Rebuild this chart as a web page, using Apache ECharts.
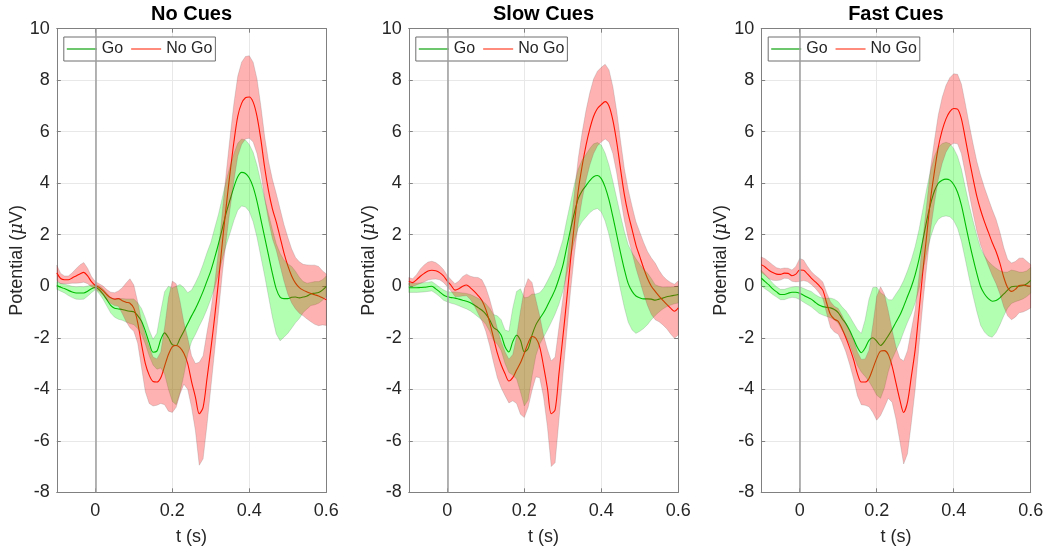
<!DOCTYPE html>
<html lang="en">
<head>
<meta charset="UTF-8">
<title>Go / No Go potentials</title>
<script src="https://cdn.jsdelivr.net/npm/echarts@6/dist/echarts.min.js"></script>
<style>
    html, body { margin: 0; padding: 0; background: #fff; }
    #main { width: 1047px; height: 550px; }
</style>
</head>
<body>
<div id="main"></div>
<script>
    // time (s)
    var times = [-0.1,-0.09,-0.08,-0.07,-0.06,-0.05,-0.04,-0.03,-0.02,-0.01,0,
        0.01,0.02,0.03,0.04,0.05,0.06,0.07,0.08,0.09,0.1,
        0.11,0.12,0.13,0.14,0.15,0.16,0.17,0.18,0.19,0.2,
        0.21,0.22,0.23,0.24,0.25,0.26,0.27,0.28,0.29,0.3,
        0.31,0.32,0.33,0.34,0.35,0.36,0.37,0.38,0.39,0.4,
        0.41,0.42,0.43,0.44,0.45,0.46,0.47,0.48,0.49,0.5,
        0.51,0.52,0.53,0.54,0.55,0.56,0.57,0.58,0.59,0.6];
    var panelTitles = ['No Cues', 'Slow Cues', 'Fast Cues'];
    var onsetTime = 0;

    // No Cues
    var goMean1 = [0.03,-0.04,-0.09,-0.16,-0.22,-0.26,-0.26,-0.26,-0.19,-0.1,-0.04,
        -0.13,-0.3,-0.52,-0.74,-0.85,-0.88,-0.9,-0.94,-0.97,-0.99,
        -1.14,-1.36,-1.74,-2.2,-2.56,-2.52,-2.07,-1.81,-2.0,-2.27,
        -2.3,-2.03,-1.75,-1.45,-1.15,-0.87,-0.55,-0.2,0.2,0.6,
        1.1,1.65,2.25,2.85,3.36,3.85,4.25,4.42,4.38,4.2,
        3.85,3.3,2.6,1.9,1.2,0.5,-0.1,-0.42,-0.48,-0.48,
        -0.43,-0.42,-0.45,-0.42,-0.38,-0.3,-0.27,-0.24,-0.15,0.0];
    var goErr1 = [0.15,0.15,0.17,0.2,0.22,0.24,0.25,0.24,0.2,0.15,0.1,
        0.15,0.2,0.25,0.3,0.35,0.4,0.42,0.45,0.48,0.5,
        0.5,0.5,0.5,0.5,0.5,0.7,1.1,1.6,2.0,2.2,
        2.3,2.1,1.7,1.2,1.0,1.0,1.0,1.05,1.1,1.1,
        1.15,1.15,1.2,1.25,1.3,1.3,1.3,1.3,1.3,1.3,
        1.35,1.4,1.45,1.5,1.6,1.7,1.75,1.7,1.5,1.35,
        1.2,1.0,0.8,0.6,0.5,0.45,0.45,0.42,0.4,0.4];
    var noGoMean1 = [0.52,0.3,0.25,0.25,0.32,0.4,0.48,0.54,0.4,0.18,0.03,
        -0.05,-0.17,-0.33,-0.45,-0.5,-0.48,-0.56,-0.62,-0.66,-0.85,
        -1.4,-2.25,-3.0,-3.45,-3.7,-3.72,-3.55,-3.1,-2.65,-2.35,
        -2.3,-2.38,-2.6,-3.0,-3.7,-4.3,-4.95,-4.7,-3.6,-2.45,
        -1.2,0.2,1.7,3.1,4.4,5.6,6.6,7.1,7.32,7.35,
        7.15,6.6,5.7,4.6,3.7,3.0,2.5,1.9,1.3,0.8,
        0.4,0.12,-0.05,-0.15,-0.22,-0.28,-0.33,-0.38,-0.45,-0.52];
    var noGoErr1 = [0.3,0.2,0.15,0.15,0.2,0.28,0.35,0.38,0.3,0.2,0.15,
        0.15,0.18,0.2,0.22,0.25,0.3,0.5,0.75,0.95,0.9,
        0.8,0.9,1.1,1.1,0.95,0.9,1.0,1.5,2.2,2.55,
        2.4,1.8,1.2,1.0,1.0,1.3,2.0,2.0,1.8,1.5,
        1.3,1.2,1.2,1.3,1.4,1.5,1.55,1.6,1.6,1.6,
        1.55,1.45,1.3,1.2,1.15,1.15,1.1,1.1,1.1,1.1,
        1.05,1.0,1.0,1.0,1.05,1.1,1.15,1.15,1.05,1.0];

    // Slow Cues
    var goMean2 = [-0.06,-0.06,-0.06,-0.05,-0.04,-0.02,0.0,-0.1,-0.22,-0.34,-0.41,
        -0.44,-0.46,-0.5,-0.54,-0.58,-0.64,-0.73,-0.83,-0.93,-1.08,
        -1.3,-1.6,-1.7,-1.9,-2.35,-2.55,-2.15,-1.9,-2.1,-2.55,
        -2.42,-1.9,-1.5,-1.25,-1.03,-0.75,-0.45,-0.13,0.3,0.8,
        1.5,2.2,2.85,3.4,3.7,3.9,4.1,4.25,4.3,4.18,
        3.85,3.35,2.7,2.0,1.3,0.65,0.1,-0.2,-0.38,-0.45,
        -0.49,-0.49,-0.5,-0.54,-0.5,-0.46,-0.41,-0.38,-0.35,-0.32];
    var goErr2 = [0.18,0.18,0.18,0.18,0.18,0.18,0.18,0.18,0.18,0.2,0.2,
        0.22,0.24,0.26,0.28,0.3,0.32,0.34,0.36,0.38,0.4,
        0.45,0.5,0.55,0.6,0.65,0.8,1.3,1.7,2.0,2.1,
        2.0,1.6,1.2,1.0,0.95,0.95,0.95,0.95,1.0,1.0,
        1.05,1.05,1.1,1.15,1.2,1.22,1.25,1.28,1.28,1.3,
        1.32,1.35,1.38,1.42,1.45,1.48,1.5,1.5,1.45,1.3,
        1.15,1.0,0.8,0.6,0.5,0.42,0.38,0.35,0.33,0.33];
    var noGoMean2 = [0.19,0.14,0.25,0.39,0.5,0.59,0.62,0.6,0.53,0.4,0.2,
        0.03,-0.15,-0.1,0.0,0.05,-0.06,-0.2,-0.36,-0.55,-0.9,
        -1.4,-2.0,-2.6,-3.05,-3.4,-3.68,-3.55,-3.25,-2.97,-2.6,
        -2.2,-1.95,-2.02,-2.35,-3.1,-3.95,-4.95,-4.8,-3.4,-2.0,
        -0.55,1.0,2.4,3.7,4.65,5.45,6.1,6.6,6.9,7.05,
        7.17,7.0,6.45,5.6,4.55,3.55,2.8,2.2,1.6,1.15,
        0.7,0.3,0.0,-0.2,-0.38,-0.55,-0.7,-0.85,-0.97,-0.84];
    var noGoErr2 = [0.15,0.15,0.2,0.28,0.33,0.35,0.35,0.32,0.28,0.25,0.22,
        0.22,0.25,0.3,0.38,0.42,0.45,0.55,0.7,0.8,0.85,
        0.9,0.95,0.95,0.9,0.85,0.85,0.9,1.3,2.0,2.5,
        2.5,2.1,1.5,1.2,1.2,1.5,2.05,2.05,1.8,1.5,
        1.3,1.2,1.2,1.25,1.3,1.35,1.4,1.45,1.45,1.45,
        1.45,1.4,1.3,1.2,1.1,1.0,0.95,0.9,0.9,0.95,
        1.0,1.05,1.1,1.1,1.0,0.95,0.95,1.0,1.05,1.05];

    // Fast Cues
    var goMean3 = [0.32,0.18,0.05,-0.1,-0.22,-0.32,-0.32,-0.27,-0.23,-0.23,-0.27,
        -0.35,-0.43,-0.5,-0.62,-0.73,-0.79,-0.82,-0.84,-0.9,-1.02,
        -1.25,-1.45,-1.72,-2.05,-2.38,-2.58,-2.4,-2.1,-2.0,-2.13,
        -2.3,-2.15,-1.92,-1.68,-1.4,-1.13,-0.78,-0.4,-0.02,0.45,
        1.05,1.8,2.55,3.2,3.7,4.0,4.12,4.16,4.12,3.95,
        3.65,3.15,2.45,1.75,1.1,0.5,-0.02,-0.3,-0.48,-0.58,
        -0.55,-0.45,-0.3,-0.15,-0.02,0.0,0.0,0.03,0.1,0.23];
    var goErr3 = [0.3,0.28,0.25,0.22,0.2,0.2,0.2,0.2,0.2,0.22,0.25,
        0.27,0.28,0.3,0.3,0.32,0.33,0.35,0.38,0.4,0.42,
        0.45,0.5,0.55,0.62,0.7,0.75,1.1,1.6,1.95,2.1,
        2.05,1.8,1.4,1.15,1.1,1.05,1.0,1.0,1.05,1.1,
        1.15,1.2,1.25,1.3,1.35,1.4,1.42,1.43,1.42,1.4,
        1.4,1.4,1.4,1.42,1.45,1.48,1.5,1.48,1.45,1.4,
        1.25,1.05,0.85,0.7,0.65,0.6,0.55,0.52,0.5,0.5];
    var noGoMean3 = [0.84,0.75,0.62,0.53,0.47,0.46,0.51,0.5,0.41,0.47,0.63,
        0.62,0.48,0.32,0.18,0.03,-0.15,-0.65,-1.1,-1.28,-1.36,
        -1.65,-2.0,-2.4,-2.85,-3.4,-3.72,-3.72,-3.58,-3.2,-2.8,
        -2.52,-2.5,-2.65,-3.1,-3.75,-4.4,-4.9,-4.5,-3.5,-2.45,
        -0.95,0.6,2.0,3.4,4.45,5.4,6.05,6.5,6.78,6.9,
        6.88,6.5,5.75,4.95,4.2,3.5,2.95,2.5,2.1,1.7,
        1.35,0.9,0.35,-0.05,-0.2,-0.12,0.03,0.05,0.02,0.0];
    var noGoErr3 = [0.3,0.32,0.33,0.3,0.25,0.22,0.2,0.2,0.22,0.3,0.45,
        0.4,0.3,0.25,0.25,0.28,0.32,0.4,0.5,0.5,0.5,
        0.52,0.55,0.65,0.75,0.85,0.88,0.9,1.1,1.7,2.4,
        2.5,2.2,1.7,1.4,1.4,1.6,2.0,2.0,1.8,1.55,
        1.35,1.25,1.2,1.2,1.22,1.25,1.28,1.3,1.32,1.35,
        1.35,1.35,1.35,1.35,1.35,1.35,1.35,1.32,1.3,1.28,
        1.25,1.2,1.15,1.1,1.1,1.08,1.06,1.05,0.95,0.84];

    var panels = [
        { title: panelTitles[0], goMean: goMean1, goErr: goErr1, noGoMean: noGoMean1, noGoErr: noGoErr1 },
        { title: panelTitles[1], goMean: goMean2, goErr: goErr2, noGoMean: noGoMean2, noGoErr: noGoErr2 },
        { title: panelTitles[2], goMean: goMean3, goErr: goErr3, noGoMean: noGoMean3, noGoErr: noGoErr3 }
    ];

    var font = '"Liberation Sans", Arial, Helvetica, sans-serif';
    var textCol = '#262626';
    var axisCol = '#808080';
    var gridCol = '#e8e8e8';
    var goLine = '#00a000', noGoLine = '#ff1a00';
    var goFill = 'rgba(0,255,0,0.3)', noGoFill = 'rgba(255,0,0,0.3)';
    var edgeCol = 'rgba(70,70,70,0.22)';

    var gridLeft = [56.8, 408.8, 761.2];
    var gridTop = 28.7, gridW = 269.5, gridH = 463.6;

    function pairs(vals) {
        return times.map(function (t, i) { return [t, vals[i]]; });
    }

    // shaded mean +/- error band, drawn as one polygon through the axis scales
    function bandSeries(ax, m, e, fill, key) {
        var rows = times.map(function (t, i) { return [t, m[i] - e[i], m[i] + e[i]]; });
        return Object.assign({
            name: key, type: 'custom', data: rows, z: 3, silent: true,
            encode: { x: 0, y: [1, 2] },
            renderItem: function (params, api) {
                if (params.dataIndex !== 0) return null;
                var upper = rows.map(function (r) { return api.coord([r[0], r[2]]); });
                var lower = rows.map(function (r) { return api.coord([r[0], r[1]]); }).reverse();
                return {
                    type: 'polygon',
                    shape: { points: upper.concat(lower) },
                    style: { fill: fill, stroke: edgeCol, lineWidth: 0.8 }
                };
            }
        }, ax);
    }

    var grids = [], xAxes = [], yAxes = [], legends = [], graphics = [], series = [];

    panels.forEach(function (pn, p) {
        grids.push({ left: gridLeft[p], top: gridTop, width: gridW, height: gridH, outerBoundsMode: 'none', containLabel: false });

        // bottom x axis + mirrored top
        xAxes.push({
            type: 'value', gridIndex: p, min: -0.1, max: 0.6, splitNumber: 4, position: 'bottom',
            name: 't (s)', nameLocation: 'middle', nameGap: 36,
            nameTextStyle: { fontSize: 18, color: textCol, fontFamily: font },
            axisLine: { show: true, onZero: false, lineStyle: { color: axisCol, width: 1 } },
            axisTick: { show: true, inside: true, length: 4, lineStyle: { color: axisCol } },
            axisLabel: { fontSize: 18, color: textCol, fontFamily: font, margin: 10, showMinLabel: false },
            splitLine: { show: true, lineStyle: { color: gridCol, width: 1 } }
        });
        xAxes.push({
            type: 'value', gridIndex: p, min: -0.1, max: 0.6, splitNumber: 4, position: 'top',
            axisLine: { show: true, onZero: false, lineStyle: { color: axisCol, width: 1 } },
            axisTick: { show: true, inside: true, length: 4, lineStyle: { color: axisCol } },
            axisLabel: { show: false }, splitLine: { show: false }
        });
        // left y axis + mirrored right
        yAxes.push({
            type: 'value', gridIndex: p, min: -8, max: 10, interval: 2, position: 'left',
            name: 'Potential ({mu|μ}V)', nameLocation: 'middle', nameGap: 30, nameRotate: 90,
            nameTextStyle: {
                fontSize: 18, color: textCol, fontFamily: font,
                rich: { mu: { fontSize: 18, color: textCol, fontStyle: 'italic', fontFamily: '"DejaVu Serif", serif' } }
            },
            axisLine: { show: true, onZero: false, lineStyle: { color: axisCol, width: 1 } },
            axisTick: { show: true, inside: true, length: 4, lineStyle: { color: axisCol } },
            axisLabel: { fontSize: 18, color: textCol, fontFamily: font, margin: 7 },
            splitLine: { show: true, lineStyle: { color: gridCol, width: 1 } }
        });
        yAxes.push({
            type: 'value', gridIndex: p, min: -8, max: 10, interval: 2, position: 'right',
            axisLine: { show: true, onZero: false, lineStyle: { color: axisCol, width: 1 } },
            axisTick: { show: true, inside: true, length: 4, lineStyle: { color: axisCol } },
            axisLabel: { show: false }, splitLine: { show: false }
        });

        legends.push({
            left: gridLeft[p] + 7, top: 37, orient: 'horizontal',
            padding: [4, 3, 4, 3], itemGap: 8, itemWidth: 30, itemHeight: 1.5,
            icon: 'rect',
            backgroundColor: '#fff', borderColor: '#6e6e6e', borderWidth: 1,
            selectedMode: false,
            textStyle: { fontSize: 16, color: textCol, fontFamily: font },
            data: [
                { name: 'Go', itemStyle: { color: '#3cb53c' } },
                { name: 'No Go', itemStyle: { color: '#ff6650' } }
            ]
        });

        graphics.push({
            type: 'text', x: gridLeft[p] + gridW / 2, y: 14, silent: true,
            style: { text: pn.title, textAlign: 'center', textVerticalAlign: 'middle',
                font: 'bold 20px ' + font, fill: '#000' }
        });

        var ax = { xAxisIndex: 2 * p, yAxisIndex: 2 * p };
        // mean lines first, bands are drawn over them
        series.push(Object.assign({
            name: 'Go', type: 'line', data: pairs(pn.goMean), symbol: 'none', smooth: 0.3,
            lineStyle: { color: goLine, width: 1.1 }, itemStyle: { color: goLine }, z: 2,
            emphasis: { disabled: true },
            markLine: {
                silent: true, symbol: 'none', animation: false, label: { show: false },
                lineStyle: { color: '#9c9c9c', width: 1.5, type: 'solid' },
                data: [{ xAxis: onsetTime }]
            }
        }, ax));
        series.push(Object.assign({
            name: 'No Go', type: 'line', data: pairs(pn.noGoMean), symbol: 'none', smooth: 0.3,
            lineStyle: { color: noGoLine, width: 1.1 }, itemStyle: { color: noGoLine }, z: 2,
            emphasis: { disabled: true }
        }, ax));
        series.push(bandSeries(ax, pn.goMean, pn.goErr, goFill, 'go-band-' + p));
        series.push(bandSeries(ax, pn.noGoMean, pn.noGoErr, noGoFill, 'nogo-band-' + p));
    });

    var myChart = echarts.init(document.getElementById('main'));
    myChart.setOption({
        animation: false,
        backgroundColor: '#fff',
        grid: grids,
        xAxis: xAxes,
        yAxis: yAxes,
        legend: legends,
        graphic: graphics,
        series: series
    });
</script>
</body>
</html>
